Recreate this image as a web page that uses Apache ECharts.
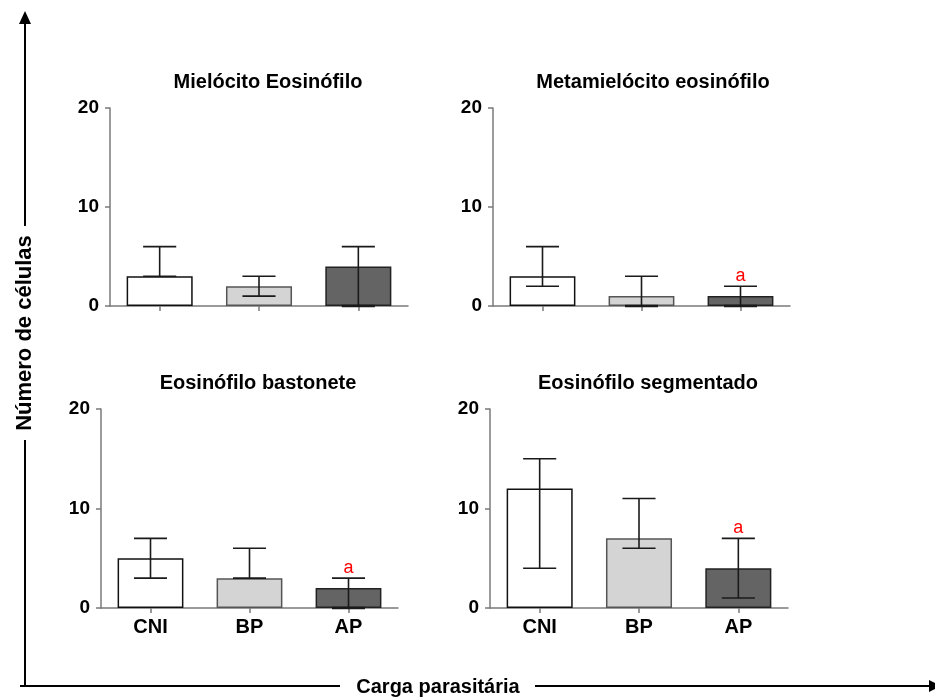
<!DOCTYPE html>
<html>
<head>
<meta charset="utf-8">
<script src="https://cdn.jsdelivr.net/npm/echarts@6/dist/echarts.min.js"></script>
<style>html,body{margin:0;padding:0;background:#fff}#c{width:935px;height:700px}</style>
</head>
<body>
<div id="c"></div>
<script>
// ---- data ----
const categories = ['CNI', 'BP', 'AP'];
const panelTitles = ['Mielócito Eosinófilo', 'Metamielócito eosinófilo', 'Eosinófilo bastonete', 'Eosinófilo segmentado'];
const yTicks = [0, 10, 20];
// bar values per panel
const meanMielocito = [3, 2, 4];
const meanMetamielocito = [3, 1, 1];
const meanBastonete = [5, 3, 2];
const meanSegmentado = [12, 7, 4];
// error bar low / high per panel
const lowMielocito = [3, 1, 0];
const highMielocito = [6, 3, 6];
const lowMetamielocito = [2, 0, 0];
const highMetamielocito = [6, 3, 2];
const lowBastonete = [3, 3, 0];
const highBastonete = [7, 6, 3];
const lowSegmentado = [4, 6, 1];
const highSegmentado = [15, 11, 7];
// significance marks ("a")
const sigMielocito = ['', '', ''];
const sigMetamielocito = ['', '', 'a'];
const sigBastonete = ['', '', 'a'];
const sigSegmentado = ['', '', 'a'];
const xTitle = 'Carga parasitária';
const yTitle = 'Número de células';

// ---- build ----
const means = [meanMielocito, meanMetamielocito, meanBastonete, meanSegmentado];
const lows = [lowMielocito, lowMetamielocito, lowBastonete, lowSegmentado];
const highs = [highMielocito, highMetamielocito, highBastonete, highSegmentado];
const sigs = [sigMielocito, sigMetamielocito, sigBastonete, sigSegmentado];

const grids = [
  {left: 110, top: 108, width: 298, height: 198},
  {left: 493, top: 108, width: 297, height: 198},
  {left: 101, top: 409, width: 297, height: 199},
  {left: 490, top: 409, width: 298, height: 199}
];
const titlePos = [[268, 82], [653, 82], [258, 383], [648, 383]];
const barColors = ['#ffffff', '#d4d4d4', '#646464'];
const barBorders = ['#111111', '#555555', '#222222'];
const FONT = 'Arial, "Liberation Sans", sans-serif';
const axisGray = '#7a7a7a';

const xAxes = [], yAxes = [], series = [], graphics = [];
grids.forEach((g, i) => {
  xAxes.push({
    type: 'category', gridIndex: i, data: categories,
    axisLine: {lineStyle: {color: axisGray, width: 1.5}},
    axisTick: {show: true, alignWithLabel: true, length: 5, lineStyle: {color: axisGray, width: 1.5}},
    axisLabel: {show: i >= 2, color: '#000', fontWeight: 'bold', fontSize: 20, fontFamily: FONT, margin: 9}
  });
  yAxes.push({
    type: 'value', gridIndex: i, min: yTicks[0], max: yTicks[yTicks.length - 1], interval: yTicks[1] - yTicks[0],
    splitLine: {show: false},
    axisLine: {show: true, lineStyle: {color: axisGray, width: 1.5}},
    axisTick: {show: true, length: 5, lineStyle: {color: axisGray, width: 1.5}},
    axisLabel: {color: '#000', fontWeight: 'bold', fontSize: 19, fontFamily: FONT, margin: 11}
  });
  series.push({
    type: 'bar', xAxisIndex: i, yAxisIndex: i, barWidth: '66.5%',
    data: means[i].map((v, k) => ({value: v, itemStyle: {color: barColors[k], borderColor: barBorders[k], borderWidth: 1.5}})),
    silent: true, z: 2
  });
  series.push({
    type: 'custom', xAxisIndex: i, yAxisIndex: i, z: 5, silent: true,
    data: categories.map((c, k) => [k, lows[i][k], highs[i][k], sigs[i][k]]),
    renderItem: function (params, api) {
      const idx = api.value(0);
      const pLo = api.coord([idx, api.value(1)]);
      const pHi = api.coord([idx, api.value(2)]);
      const half = api.size([1, 0])[0] / 6;
      const x = pLo[0];
      const st = {stroke: '#1a1a1a', lineWidth: 1.6};
      const children = [
        {type: 'line', shape: {x1: x, y1: pLo[1], x2: x, y2: pHi[1]}, style: st},
        {type: 'line', shape: {x1: x - half, y1: pHi[1], x2: x + half, y2: pHi[1]}, style: st},
        {type: 'line', shape: {x1: x - half, y1: pLo[1], x2: x + half, y2: pLo[1]}, style: {stroke: '#1a1a1a', lineWidth: api.value(1) === 0 ? 2.5 : 1.6}}
      ];
      const s = params.dataIndex;
      const mark = sigs[i][s];
      if (mark) {
        children.push({type: 'text', style: {text: mark, x: x, y: pHi[1] - 1, align: 'center', verticalAlign: 'bottom', fill: '#ff0000', font: '18px ' + FONT}});
      }
      return {type: 'group', children: children};
    }
  });
  graphics.push({
    type: 'text', x: titlePos[i][0], y: titlePos[i][1],
    style: {text: panelTitles[i], align: 'center', verticalAlign: 'middle', fill: '#000', font: 'bold 20px ' + FONT}
  });
});

// outer axes with arrows
const L = {stroke: '#000', lineWidth: 2};
graphics.push(
  {type: 'line', shape: {x1: 25, y1: 22, x2: 25, y2: 226}, style: L},
  {type: 'line', shape: {x1: 25, y1: 440, x2: 25, y2: 687}, style: L},
  {type: 'polygon', shape: {points: [[25, 11], [19, 24], [31, 24]]}, style: {fill: '#000'}},
  {type: 'text', x: 25, y: 333, rotation: Math.PI / 2,
   style: {text: yTitle, align: 'center', verticalAlign: 'middle', fill: '#000', font: 'bold 22px ' + FONT}},
  {type: 'line', shape: {x1: 20, y1: 686, x2: 340, y2: 686}, style: L},
  {type: 'line', shape: {x1: 535, y1: 686, x2: 930, y2: 686}, style: L},
  {type: 'polygon', shape: {points: [[929, 680], [929, 692], [941, 686]]}, style: {fill: '#000'}},
  {type: 'text', x: 438, y: 687,
   style: {text: xTitle, align: 'center', verticalAlign: 'middle', fill: '#000', font: 'bold 20px ' + FONT}}
);

const chart = echarts.init(document.getElementById('c'), null, {renderer: 'canvas'});
chart.setOption({
  animation: false,
  backgroundColor: '#fff',
  grid: grids,
  xAxis: xAxes,
  yAxis: yAxes,
  series: series,
  graphic: graphics
});
</script>
</body>
</html>
